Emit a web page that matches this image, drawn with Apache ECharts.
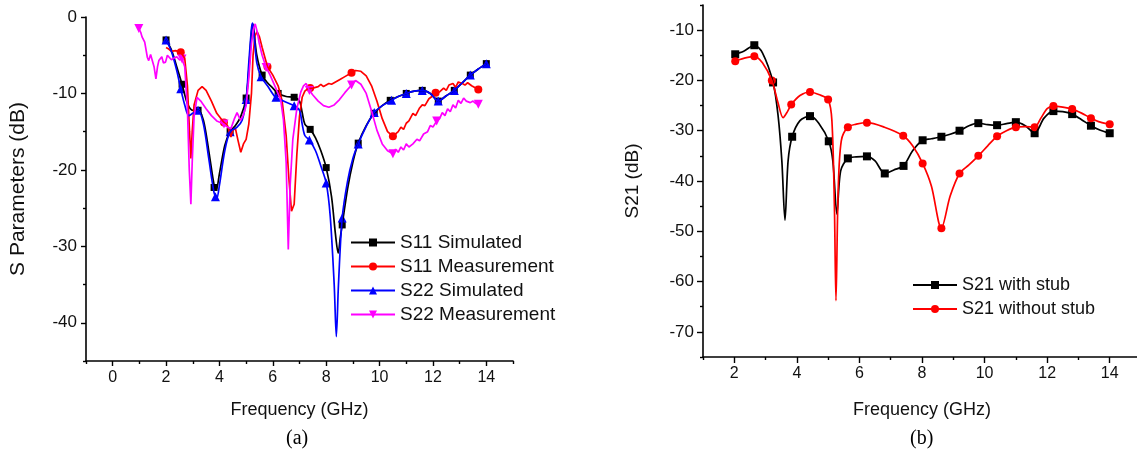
<!DOCTYPE html>
<html>
<head>
<meta charset="utf-8">
<script src="https://cdn.jsdelivr.net/npm/echarts@6.0.0/dist/echarts.min.js"></script>
<style>
  html, body { margin: 0; padding: 0; background: #fff; }
  #chart { width: 1137px; height: 461px; }
</style>
</head>
<body>
<div id="chart"></div>
<script>
// ---- (a) S parameters, [GHz, dB] ----
var s11SimCurve = [[2.0,-3.0],[2.2,-4.3],[2.4,-6.5],[2.6,-8.8],[2.8,-11.3],[3.0,-12.2],[3.2,-12.2],[3.4,-13.5],[3.6,-17.5],[3.8,-22.0],[3.88,-22.6],[4.0,-20.5],[4.2,-16.8],[4.4,-15.0],[4.6,-14.2],[4.8,-13.0],[5.0,-10.6],[5.1,-7.0],[5.2,-2.0],[5.25,-0.9],[5.3,-2.0],[5.4,-5.0],[5.6,-7.6],[5.8,-8.6],[6.0,-9.3],[6.2,-10.0],[6.5,-10.4],[6.8,-10.5],[7.0,-11.0],[7.1,-12.5],[7.2,-14.0],[7.4,-14.7],[7.6,-15.8],[7.8,-17.5],[8.0,-19.7],[8.2,-23.5],[8.35,-28.5],[8.45,-30.9],[8.53,-28.8],[8.6,-27.2],[8.8,-22.5],[9.0,-19.0],[9.2,-16.5],[9.5,-14.2],[9.8,-12.6],[10.1,-11.6],[10.4,-10.9],[10.7,-10.4],[11.0,-10.0],[11.3,-9.7],[11.6,-9.6],[11.9,-10.0],[12.2,-11.0],[12.5,-10.3],[12.8,-9.6],[13.1,-8.6],[13.4,-7.6],[13.7,-6.8],[14.0,-6.1]];
var s11SimMarks = [[2.0,-3.0],[2.6,-8.8],[3.2,-12.2],[3.8,-22.3],[4.4,-15.0],[5.0,-10.6],[5.6,-7.6],[6.2,-10.0],[6.8,-10.5],[7.4,-14.7],[8.0,-19.7],[8.6,-27.2],[9.2,-16.5],[9.8,-12.6],[10.4,-10.9],[11.0,-10.0],[11.6,-9.6],[12.2,-11.0],[12.8,-9.6],[13.4,-7.6],[14.0,-6.1]];

var s11MeasCurve = [[2.0,-4.0],[2.1,-4.2],[2.2,-4.5],[2.35,-4.4],[2.55,-4.6],[2.7,-5.4],[2.8,-9.0],[2.88,-15.0],[2.93,-18.5],[2.98,-15.0],[3.05,-11.5],[3.2,-9.6],[3.35,-9.1],[3.5,-9.6],[3.7,-11.0],[3.9,-12.6],[4.17,-13.8],[4.3,-14.2],[4.43,-15.7],[4.5,-14.8],[4.6,-14.6],[4.7,-16.2],[4.8,-17.7],[4.9,-16.6],[5.0,-16.0],[5.1,-14.0],[5.2,-10.0],[5.26,-5.0],[5.33,-2.5],[5.41,-1.9],[5.5,-2.6],[5.6,-4.0],[5.8,-6.5],[6.0,-7.6],[6.2,-9.0],[6.35,-11.0],[6.5,-15.5],[6.6,-21.0],[6.7,-25.4],[6.8,-24.5],[6.9,-18.0],[7.0,-13.0],[7.1,-10.5],[7.2,-9.7],[7.3,-9.4],[7.5,-9.3],[7.7,-9.1],[7.8,-8.8],[7.9,-9.1],[8.0,-8.9],[8.1,-8.7],[8.2,-8.8],[8.3,-8.6],[8.5,-8.2],[8.7,-7.8],[8.95,-7.3],[9.1,-7.0],[9.3,-7.1],[9.5,-7.7],[9.7,-9.0],[9.9,-11.0],[10.1,-13.3],[10.3,-15.0],[10.5,-15.6],[10.7,-15.0],[10.8,-14.4],[10.9,-14.7],[11.0,-13.9],[11.1,-13.6],[11.25,-12.6],[11.35,-12.9],[11.5,-11.9],[11.6,-11.5],[11.7,-11.6],[11.85,-10.7],[12.0,-10.3],[12.1,-9.9],[12.25,-9.8],[12.4,-9.3],[12.5,-9.6],[12.6,-8.9],[12.75,-8.7],[12.85,-9.2],[12.95,-8.5],[13.1,-8.7],[13.2,-8.9],[13.3,-8.6],[13.45,-9.0],[13.6,-9.3],[13.7,-9.5]];
var s11MeasMarks = [[2.55,-4.6],[4.17,-13.8],[5.8,-6.5],[7.4,-9.3],[8.95,-7.3],[10.5,-15.6],[12.1,-9.9],[13.7,-9.5]];

var s22SimCurve = [[2.0,-3.0],[2.2,-4.5],[2.4,-7.0],[2.55,-9.4],[2.7,-11.5],[2.85,-12.9],[3.0,-12.6],[3.2,-12.2],[3.4,-14.0],[3.6,-18.5],[3.8,-23.0],[3.9,-23.7],[4.0,-22.0],[4.2,-17.5],[4.4,-15.0],[4.66,-14.4],[4.85,-13.5],[5.0,-10.8],[5.1,-6.0],[5.2,-1.5],[5.24,-0.8],[5.3,-2.5],[5.4,-6.0],[5.56,-7.8],[5.8,-9.0],[6.1,-10.5],[6.4,-11.0],[6.8,-11.6],[7.0,-12.2],[7.1,-14.0],[7.2,-15.5],[7.37,-16.1],[7.6,-17.5],[7.8,-19.5],[8.0,-21.7],[8.15,-26.0],[8.3,-35.0],[8.38,-41.8],[8.46,-35.0],[8.6,-26.3],[8.8,-21.5],[9.0,-18.5],[9.2,-16.6],[9.5,-14.3],[9.8,-12.5],[10.1,-11.6],[10.45,-10.9],[10.7,-10.4],[11.0,-10.0],[11.3,-9.7],[11.6,-9.6],[11.9,-10.0],[12.2,-11.0],[12.5,-10.3],[12.8,-9.6],[13.1,-8.6],[13.4,-7.6],[13.7,-6.8],[14.0,-6.1]];
var s22SimMarks = [[2.0,-3.0],[2.55,-9.4],[3.2,-12.2],[3.85,-23.5],[4.4,-15.0],[5.0,-10.8],[5.56,-7.8],[6.12,-10.5],[6.8,-11.6],[7.37,-16.1],[8.0,-21.7],[8.6,-26.3],[9.2,-16.6],[9.8,-12.5],[10.45,-10.9],[11.0,-10.0],[11.6,-9.6],[12.2,-11.0],[12.8,-9.6],[13.4,-7.6],[14.0,-6.1]];

var s22MeasCurve = [[0.98,-1.5],[1.05,-2.0],[1.1,-2.6],[1.2,-3.3],[1.3,-5.3],[1.35,-5.7],[1.42,-4.9],[1.47,-4.8],[1.55,-6.5],[1.62,-8.1],[1.68,-6.5],[1.73,-5.7],[1.8,-5.6],[1.84,-5.2],[1.9,-6.0],[1.98,-5.9],[2.05,-5.0],[2.1,-4.8],[2.2,-5.6],[2.29,-5.4],[2.4,-5.2],[2.5,-5.6],[2.6,-5.5],[2.7,-6.5],[2.8,-12.0],[2.87,-20.0],[2.93,-24.5],[2.98,-19.0],[3.05,-13.0],[3.16,-10.5],[3.3,-11.0],[3.5,-12.0],[3.7,-12.9],[3.9,-13.6],[4.17,-14.0],[4.3,-14.4],[4.43,-14.6],[4.55,-13.4],[4.66,-12.5],[4.75,-13.2],[4.8,-13.5],[4.9,-12.8],[5.0,-11.6],[5.1,-8.0],[5.2,-3.5],[5.28,-1.5],[5.34,-0.9],[5.42,-2.0],[5.49,-3.4],[5.6,-5.0],[5.75,-6.6],[5.9,-7.6],[6.1,-9.2],[6.3,-10.9],[6.4,-13.5],[6.5,-19.0],[6.58,-30.4],[6.65,-22.0],[6.75,-16.0],[6.9,-12.0],[7.05,-9.8],[7.15,-9.0],[7.25,-8.7],[7.37,-9.6],[7.5,-10.2],[7.7,-11.0],[7.9,-11.6],[8.1,-11.8],[8.3,-11.5],[8.5,-10.8],[8.7,-9.9],[8.95,-8.9],[9.1,-8.3],[9.3,-8.8],[9.5,-10.0],[9.7,-12.3],[9.9,-14.8],[10.1,-16.6],[10.3,-17.5],[10.5,-17.9],[10.6,-17.3],[10.7,-17.7],[10.8,-17.0],[10.9,-17.4],[11.0,-16.6],[11.1,-17.0],[11.25,-16.6],[11.4,-16.0],[11.5,-16.2],[11.65,-15.3],[11.8,-15.0],[11.9,-14.2],[12.0,-14.4],[12.14,-13.6],[12.25,-13.3],[12.35,-12.5],[12.45,-12.9],[12.55,-12.0],[12.65,-12.4],[12.75,-11.5],[12.85,-11.9],[12.95,-10.9],[13.05,-11.3],[13.15,-10.6],[13.25,-11.0],[13.4,-11.2],[13.5,-11.0],[13.6,-11.3],[13.7,-11.4]];
var s22MeasMarks = [[0.98,-1.5],[2.6,-5.5],[4.17,-14.0],[5.75,-6.6],[7.37,-9.6],[8.95,-8.9],[10.5,-17.9],[12.14,-13.6],[13.7,-11.4]];

// ---- (b) S21, [GHz, dB] ----
var withStubCurve = [[2.0,-14.8],[2.3,-14.2],[2.64,-13.0],[2.9,-14.5],[3.24,-20.4],[3.4,-27.0],[3.52,-36.0],[3.62,-47.8],[3.72,-36.0],[3.85,-31.2],[4.1,-28.0],[4.42,-27.1],[4.7,-28.5],[5.02,-32.1],[5.15,-36.0],[5.28,-46.6],[5.4,-38.0],[5.63,-35.5],[5.9,-35.2],[6.24,-35.1],[6.5,-36.0],[6.81,-38.5],[7.1,-37.8],[7.41,-37.0],[7.7,-34.0],[8.02,-31.9],[8.3,-31.6],[8.62,-31.2],[8.9,-30.7],[9.2,-30.0],[9.5,-29.0],[9.8,-28.5],[10.1,-28.8],[10.4,-28.9],[10.7,-28.6],[11.0,-28.3],[11.3,-29.0],[11.6,-30.5],[11.9,-27.5],[12.2,-26.1],[12.5,-26.2],[12.8,-26.7],[13.1,-27.8],[13.4,-29.0],[13.7,-29.9],[14.0,-30.5]];
var withStubMarks = [[2.03,-14.8],[2.64,-13.0],[3.24,-20.4],[3.85,-31.2],[4.42,-27.1],[5.02,-32.1],[5.63,-35.5],[6.24,-35.1],[6.81,-38.5],[7.41,-37.0],[8.02,-31.9],[8.62,-31.2],[9.2,-30.0],[9.8,-28.5],[10.4,-28.9],[11.0,-28.3],[11.6,-30.5],[12.2,-26.1],[12.8,-26.7],[13.4,-29.0],[14.0,-30.5]];

var noStubCurve = [[2.0,-16.2],[2.3,-15.6],[2.64,-15.2],[2.9,-16.5],[3.2,-20.0],[3.4,-24.5],[3.56,-27.4],[3.7,-26.2],[3.82,-24.8],[4.1,-23.0],[4.42,-22.3],[4.7,-22.8],[5.0,-23.8],[5.12,-28.0],[5.2,-45.0],[5.25,-63.8],[5.32,-42.0],[5.42,-32.0],[5.63,-29.3],[5.9,-28.7],[6.24,-28.4],[6.8,-29.3],[7.4,-31.0],[7.7,-33.0],[8.02,-36.5],[8.3,-41.0],[8.62,-49.4],[8.9,-43.0],[9.2,-38.5],[9.5,-36.8],[9.8,-35.0],[10.1,-33.0],[10.4,-31.1],[10.7,-30.0],[11.0,-29.3],[11.3,-29.2],[11.6,-29.3],[11.8,-27.5],[12.0,-25.6],[12.2,-25.1],[12.5,-25.3],[12.8,-25.7],[13.1,-26.5],[13.4,-27.5],[13.7,-28.3],[14.0,-28.7]];
var noStubMarks = [[2.03,-16.2],[2.64,-15.2],[3.2,-20.0],[3.82,-24.8],[4.42,-22.3],[5.0,-23.8],[5.63,-29.3],[6.24,-28.4],[7.4,-31.0],[8.02,-36.5],[8.62,-49.4],[9.2,-38.5],[9.8,-35.0],[10.4,-31.1],[11.0,-29.3],[11.6,-29.3],[12.2,-25.1],[12.8,-25.7],[13.4,-27.5],[14.0,-28.7]];

// axis ticks
var xLabelsA = [0, 2, 4, 6, 8, 10, 12, 14];
var xMinorA = [-1, 1, 3, 5, 7, 9, 11, 13, 15];
var yLabelsA = [0, -10, -20, -30, -40];
var yMinorA = [-5, -15, -25, -35, -45];
var xLabelsB = [2, 4, 6, 8, 10, 12, 14];
var xMinorB = [1, 3, 5, 7, 9, 11, 13, 15];
var yLabelsB = [-10, -20, -30, -40, -50, -60, -70];
var yMinorB = [-5, -15, -25, -35, -45, -55, -65, -75];

var FONT = 'Liberation Sans, Arial, sans-serif';
var myChart = echarts.init(document.getElementById('chart'), null, { renderer: 'canvas' });

function mainAxis(type, grid, min, max, labels, name, nameGap, tickLen, nameSize, labelSize) {
  return {
    type: 'value', gridIndex: grid, min: min, max: max,
    position: type === 'x' ? 'bottom' : 'left',
    name: name, nameLocation: 'middle', nameGap: nameGap,
    nameTextStyle: { fontFamily: FONT, fontSize: nameSize, color: '#111' },
    splitLine: { show: false },
    axisLine: { show: true, onZero: false, lineStyle: { color: '#000', width: 1.6 } },
    axisTick: { show: true, inside: false, length: tickLen, customValues: labels, lineStyle: { color: '#000', width: 1.4 } },
    axisLabel: { show: true, customValues: labels, margin: 9, fontFamily: FONT, fontSize: labelSize, color: '#111' },
    minorTick: { show: false }
  };
}
function minorAxis(type, grid, min, max, ticks) {
  return {
    type: 'value', gridIndex: grid, min: min, max: max,
    position: type === 'x' ? 'bottom' : 'left',
    splitLine: { show: false },
    axisLine: { show: false, onZero: false },
    axisTick: { show: true, inside: false, length: 3, customValues: ticks, lineStyle: { color: '#000', width: 1.4 } },
    axisLabel: { show: false }
  };
}

function addSeries(list, name, color, symbol, size, rotate, curve, marks, xi, yi, smooth) {
  list.push({
    name: name, type: 'line', xAxisIndex: xi, yAxisIndex: yi,
    data: curve, smooth: smooth, showSymbol: false,
    symbol: symbol, symbolSize: size, symbolRotate: rotate,
    lineStyle: { color: color, width: 1.7 }, itemStyle: { color: color },
    animation: false
  });
  list.push({
    name: name, type: 'scatter', xAxisIndex: xi, yAxisIndex: yi,
    data: marks, symbol: symbol, symbolSize: size, symbolRotate: rotate,
    itemStyle: { color: color, opacity: 1 }, animation: false
  });
}

var series = [];
addSeries(series, 'S11 Simulated', '#000000', 'rect', 7, 0, s11SimCurve, s11SimMarks, 0, 0, 0.3);
addSeries(series, 'S11 Measurement', '#ff0000', 'circle', 8, 0, s11MeasCurve, s11MeasMarks, 0, 0, false);
addSeries(series, 'S22 Simulated', '#0000ff', 'triangle', 9, 0, s22SimCurve, s22SimMarks, 0, 0, 0.3);
addSeries(series, 'S22 Measurement', '#ff00ff', 'triangle', 9, 180, s22MeasCurve, s22MeasMarks, 0, 0, false);
addSeries(series, 'S21 with stub', '#000000', 'rect', 8, 0, withStubCurve, withStubMarks, 2, 2, 0.3);
addSeries(series, 'S21 without stub', '#ff0000', 'circle', 8, 0, noStubCurve, noStubMarks, 2, 2, 0.3);

var option = {
  backgroundColor: '#fff',
  animation: false,
  grid: [
    { left: 86, top: 17, width: 427, height: 344, outerBoundsMode: 'none', containLabel: false },
    { left: 703, top: 5, width: 438, height: 352, outerBoundsMode: 'none', containLabel: false }
  ],
  xAxis: [
    mainAxis('x', 0, -1, 15, xLabelsA, 'Frequency (GHz)', 40, 5, 18, 16),
    minorAxis('x', 0, -1, 15, xMinorA),
    mainAxis('x', 1, 1, 15, xLabelsB, 'Frequency (GHz)', 44, 6, 18, 16),
    minorAxis('x', 1, 1, 15, xMinorB)
  ],
  yAxis: [
    mainAxis('y', 0, -45, 0, yLabelsA, 'S Parameters (dB)', 57, 5, 21, 17),
    minorAxis('y', 0, -45, 0, yMinorA),
    mainAxis('y', 1, -75, -5, yLabelsB, 'S21 (dB)', 61, 6, 19, 17),
    minorAxis('y', 1, -75, -5, yMinorB)
  ],
  legend: [
    {
      data: ['S11 Simulated', 'S11 Measurement', 'S22 Simulated', 'S22 Measurement'],
      orient: 'vertical', left: 350, top: 233, padding: 0, itemWidth: 44, itemHeight: 10, itemGap: 5,
      textStyle: { fontFamily: FONT, fontSize: 19, color: '#111' }, selectedMode: false
    },
    {
      data: ['S21 with stub', 'S21 without stub'],
      orient: 'vertical', left: 912, top: 276, padding: 0, itemWidth: 44, itemHeight: 10, itemGap: 6,
      textStyle: { fontFamily: FONT, fontSize: 18, color: '#111' }, selectedMode: false
    }
  ],
  graphic: [
    { type: 'text', left: 297 - 11, top: 429, style: { text: '(a)', font: '20px "Liberation Serif", "Times New Roman", serif', fill: '#000' } },
    { type: 'text', left: 921 - 11, top: 429, style: { text: '(b)', font: '20px "Liberation Serif", "Times New Roman", serif', fill: '#000' } }
  ],
  series: series
};
myChart.setOption(option);
</script>
</body>
</html>
